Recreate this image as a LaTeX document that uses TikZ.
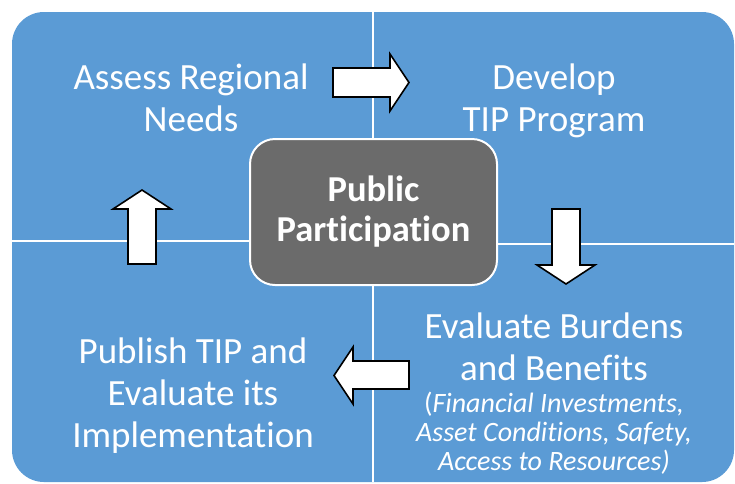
\documentclass[tikz,border=0pt]{standalone}
\usepackage{fontspec}
\setmainfont{Carlito}[RawFeature=-liga]
\definecolor{qblue}{HTML}{5B9BD5}
\definecolor{cgray}{HTML}{6B6B6B}
\begin{document}
\begin{tikzpicture}[x=1pt,y=-1pt,
  divider/.style={white, line width=2pt},
  blockarrow/.style={fill=white, draw=black, line width=1.6pt, line join=miter},
  qtext/.style={text=white, align=center, inner sep=0pt, anchor=base,
    font=\fontsize{37}{42}\selectfont},
  smalltext/.style={text=white, align=center, inner sep=0pt, anchor=base,
    font=\itshape\fontsize{28}{29}\selectfont}]
\useasboundingbox (0,0) rectangle (735,483);
\fill[white] (0,0) rectangle (735,483);
% blue field
\fill[qblue, rounded corners=32pt] (12,12) rectangle (734,482);
% white dividers
\draw[divider] (373,12) -- (373,482);
\draw[divider] (12,241) -- (373,241);
\draw[divider] (373,244) -- (734,244);
% centre box
\node[draw=white, line width=2pt, fill=cgray, rounded corners=25pt,
  minimum width=247pt, minimum height=146pt, inner sep=0pt,
  text=white, align=center, font=\bfseries\fontsize{36.5}{40}\selectfont]
  (pp) at (373.5,212) {Public\\Participation};
% quadrant texts (anchor = baseline of last line)
\node[qtext] (assess) at (191,131) {Assess Regional\\Needs};
\node[qtext] (develop) at (554,131) {Develop\\TIP Program};
\node[qtext] (evaluate) at (554,380) {Evaluate Burdens\\and Benefits};
\node[smalltext] (details) at (554,470) {{\upshape(}Financial Investments,\\Asset Conditions, Safety,\\Access to Resources)};
\node[qtext] (publish) at (193,447) {Publish TIP and\\Evaluate its\\Implementation};
% block arrows
\draw[blockarrow] (333,68) -- (390,68) -- (390,54) -- (409,82.5) -- (390,111) -- (390,97) -- (333,97) -- cycle;
\draw[blockarrow] (552,209) -- (580,209) -- (580,265) -- (595,265) -- (566,284) -- (537,265) -- (552,265) -- cycle;
\draw[blockarrow] (409,361) -- (409,389) -- (353,389) -- (353,404) -- (334,375.5) -- (353,347) -- (353,361) -- cycle;
\draw[blockarrow] (128,264) -- (156,264) -- (156,209) -- (171,209) -- (142,190) -- (113,209) -- (128,209) -- cycle;
\end{tikzpicture}
\end{document}
